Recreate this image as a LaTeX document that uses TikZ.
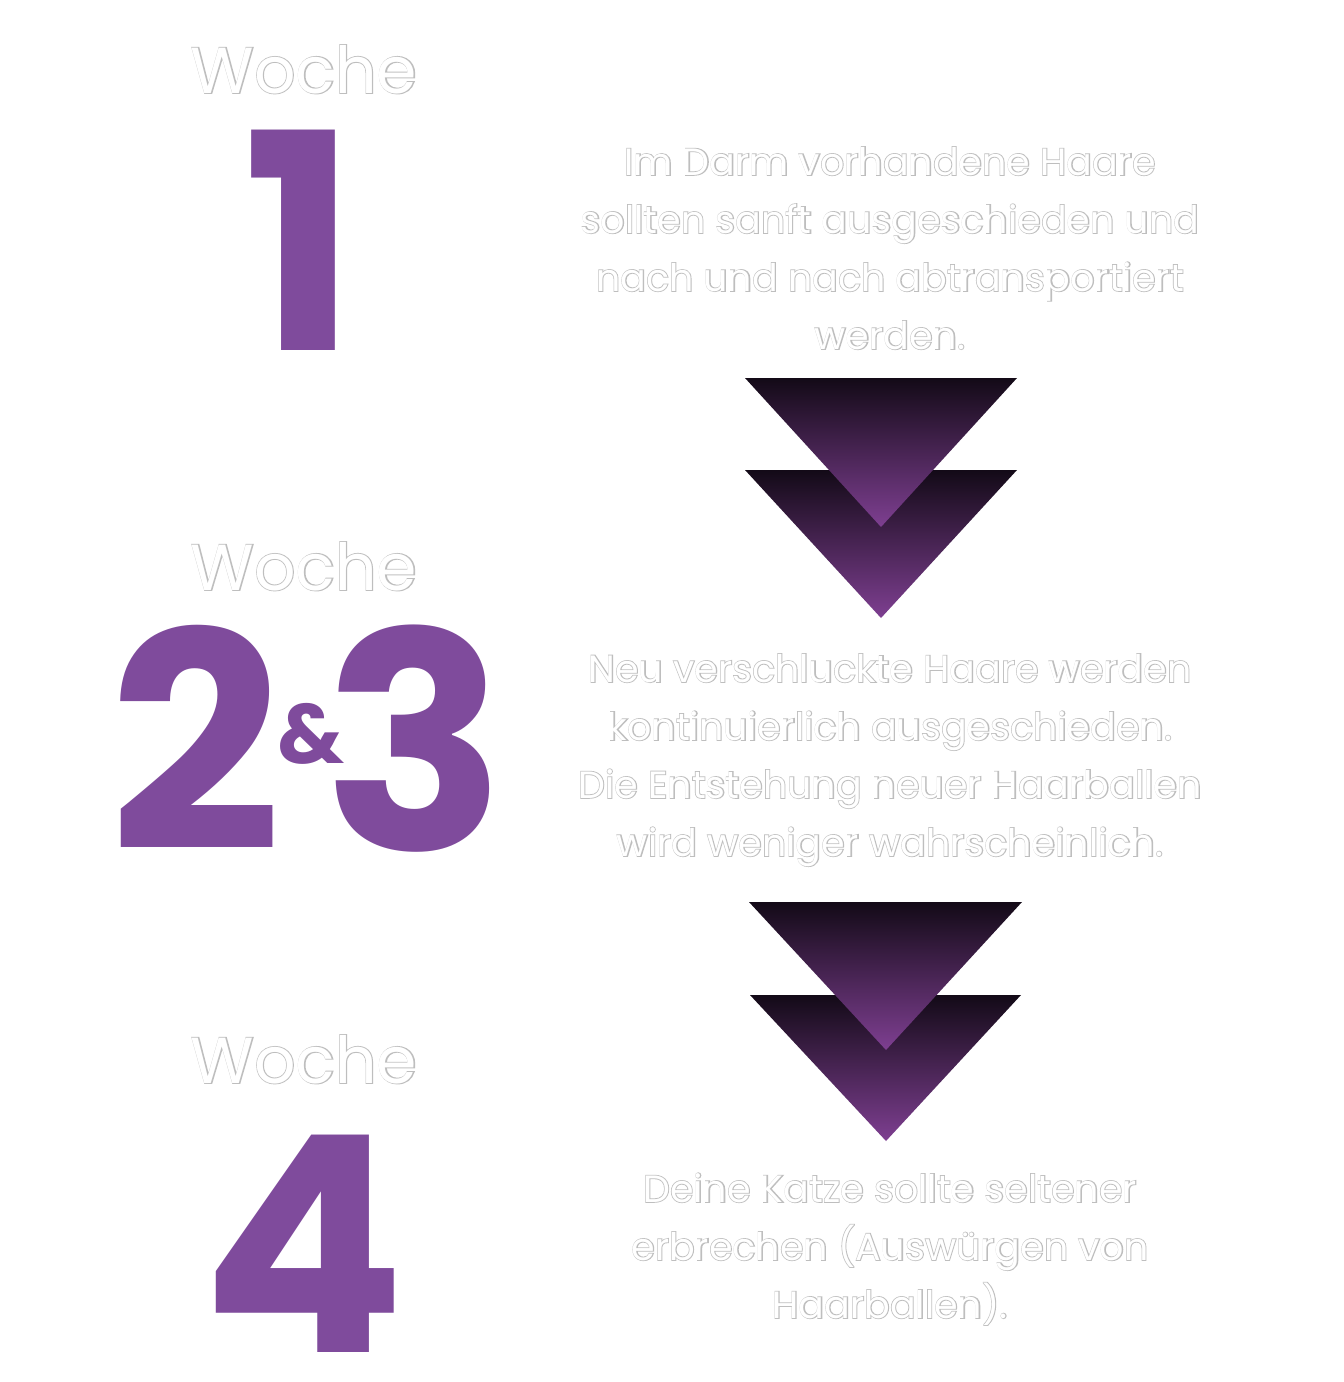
\documentclass[tikz,border=0pt]{standalone}
\usepackage{fontspec}
\setmainfont{Poppins}
\newfontfamily\edgefont{Poppins}[FakeBold=4]
\newfontfamily\edgefontw{Poppins}[FakeBold=2.6]
\definecolor{numpurple}{HTML}{7F4B9C}
\definecolor{tridark}{HTML}{130A17}
\definecolor{trilight}{HTML}{7E3F91}
\definecolor{outlinegray}{HTML}{BEBEBE}
\newcommand{\outl}[1]{\rlap{\color{outlinegray}\edgefont #1}#1}
\newcommand{\outlw}[1]{\rlap{\color{outlinegray}\edgefontw #1}#1}
\tikzset{
  weeklabel/.style={anchor=base, inner sep=0pt, text=white, font=\fontsize{65}{65}\selectfont},
  bignum/.style={anchor=base, inner sep=0pt, text=numpurple, font=\bfseries\fontsize{302}{302}\selectfont},
  amp/.style={anchor=base, inner sep=0pt, text=numpurple, font=\bfseries\fontsize{84}{84}\selectfont},
  bodytext/.style={anchor=base, inner sep=0pt, align=center, text=white, font=\fontsize{38}{58}\selectfont},
  tri/.style={top color=tridark, bottom color=trilight, draw=none}
}
\begin{document}
\begin{tikzpicture}[x=1pt,y=-1pt]
\useasboundingbox[fill=white] (0,0) rectangle (1344,1382);
% week labels
\node[weeklabel] (w1) at (304,93) {\outlw{Woche}};
\node[weeklabel] (w2) at (304,590) {\outlw{Woche}};
\node[weeklabel] (w3) at (304,1083) {\outlw{Woche}};
% numerals
\node[bignum] (n1) at (300,350) {1};
\node[bignum] (n2) at (196,850) {2};
\node[amp] (na) at (311,763) {\&};
\node[bignum] (n3) at (415,850) {3};
\node[bignum] (n4) at (304,1352) {4};
% body texts (anchor at the baseline of the last line)
\node[bodytext] (t1) at (890,349) {\outl{Im Darm vorhandene Haare}\\\outl{sollten sanft ausgeschieden und}\\\outl{nach und nach abtransportiert}\\\outl{werden.}};
\node[bodytext] (t2) at (890,856) {\outl{Neu verschluckte Haare werden}\\\outl{kontinuierlich ausgeschieden.}\\\outl{Die Entstehung neuer Haarballen}\\\outl{wird weniger wahrscheinlich.}};
\node[bodytext] (t3) at (890,1318) {\outl{Deine Katze sollte seltener}\\\outl{erbrechen (Auswürgen von}\\\outl{Haarballen).}};
% arrow pairs
\coordinate (a1l) at (745,470); \coordinate (a1r) at (1017,470); \coordinate (a1b) at (881,618);
\coordinate (a2l) at (745,378); \coordinate (a2r) at (1017,378); \coordinate (a2b) at (881,527);
\shade[tri] (a1l) -- (a1r) -- (a1b) -- cycle;
\shade[tri] (a2l) -- (a2r) -- (a2b) -- cycle;
\coordinate (b1l) at (750,995); \coordinate (b1r) at (1021,995); \coordinate (b1b) at (886,1141);
\coordinate (b2l) at (749,902); \coordinate (b2r) at (1022,902); \coordinate (b2b) at (886,1050);
\shade[tri] (b1l) -- (b1r) -- (b1b) -- cycle;
\shade[tri] (b2l) -- (b2r) -- (b2b) -- cycle;
\end{tikzpicture}
\end{document}
